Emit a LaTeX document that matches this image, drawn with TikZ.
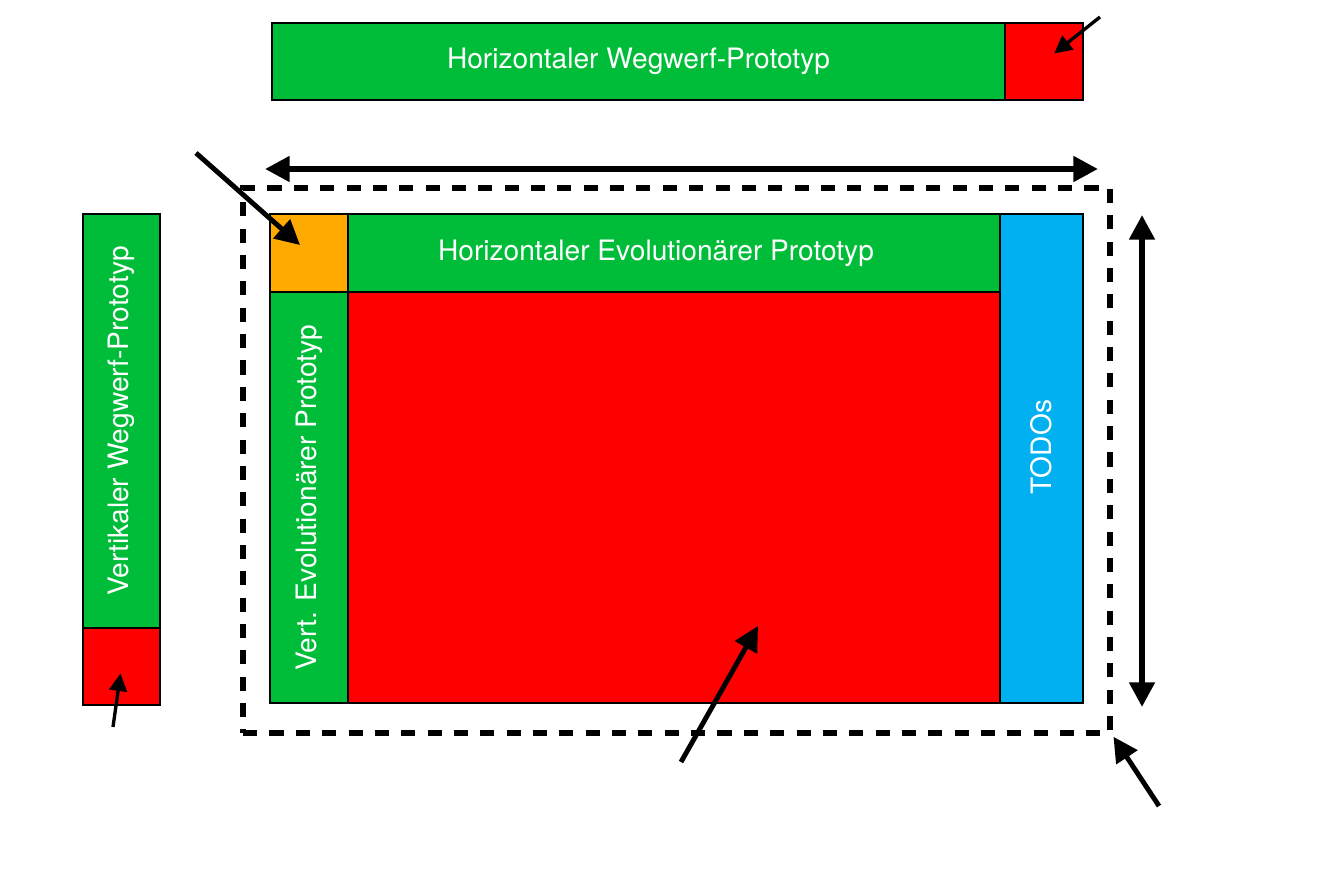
\documentclass[tikz,border=0pt]{standalone}
\usepackage{fontspec}
\setmainfont{TeX Gyre Heros}
\usetikzlibrary{arrows.meta,calc}

\definecolor{pgreen}{RGB}{0,189,57}
\definecolor{pred}{RGB}{255,0,0}
\definecolor{porange}{RGB}{255,170,0}
\definecolor{pblue}{RGB}{0,176,240}

\tikzset{
	cell/.style={draw, line width=1.2pt, inner sep=0pt, text=white, font=\fontsize{16}{19}\selectfont},
	pointer/.style={line width=2.8pt, -{Triangle[length=14pt,width=14pt]}},
	thinpointer/.style={line width=1.9pt, -{Triangle[length=10pt,width=10pt]}},
	span/.style={line width=3.3pt, {Triangle[length=14pt,width=14pt]}-{Triangle[length=14pt,width=14pt]}}
}

\begin{document}
\begin{tikzpicture}[x=0.02cm, y=-0.02cm]
		\useasboundingbox (0,0) rectangle (1334,884);

		% Wegwerf-Prototypen
		\node [cell, fill=pgreen, minimum width=14.66cm, minimum height=1.54cm] (hw) at (638.5,61.5) {Horizontaler Wegwerf-Prototyp};
		\node [cell, fill=pred, minimum width=1.56cm, minimum height=1.54cm] (hwred) at (1044,61.5) {};
		\node [cell, fill=pgreen, rotate=90, minimum width=8.28cm, minimum height=1.54cm] (vw) at (121.5,421) {Vertikaler Wegwerf-Prototyp};
		\node [cell, fill=pred, minimum width=1.54cm, minimum height=1.54cm] (vwred) at (121.5,666.5) {};

		% evolutionaerer Prototyp
		\node [draw, dashed, line width=3.4pt, dash pattern=on 8pt off 7pt, minimum width=17.34cm, minimum height=10.9cm] (frame) at (676.5,460.5) {};
		\node [cell, fill=porange, minimum width=1.56cm, minimum height=1.56cm] (corner) at (309,253) {};
		\node [cell, fill=pgreen, minimum width=13.04cm, minimum height=1.56cm] (he) at (674,253) {Horizontaler Evolutionärer Prototyp\hspace*{0.72cm}};
		\node [cell, fill=pgreen, rotate=90, minimum width=8.22cm, minimum height=1.56cm] (ve) at (309,497.5) {Vert. Evolutionärer Prototyp};
		\node [cell, fill=pred, minimum width=13.04cm, minimum height=8.22cm] (core) at (674,497.5) {};
		\node [cell, fill=pblue, rotate=90, minimum width=9.78cm, minimum height=1.66cm] (todo) at (1041.5,458.5) {\hspace*{0.46cm}TODOs};

		% Pfeile
		\coordinate (p1) at (1100,17);
		\coordinate (p2) at (113,727);
		\coordinate (p3) at (196,153);
		\coordinate (p4) at (681,762);
		\coordinate (p5) at (1159,806);
		\draw [thinpointer, shorten >=0.26cm] (p1) -- (hwred.center);
		\draw [thinpointer, shorten >=0.14cm] (p2) -- (vwred.center);
		\draw [pointer, shorten >=0.24cm] (p3) -- (corner.center);
		\draw [pointer] (p4) -- ($(core.south)+(84,-78)$);
		\draw [pointer, shorten >=0.02cm] (p5) -- (frame.south east);

		% Ausdehnung
		\coordinate (wl) at (265,169);
		\coordinate (wr) at (1098,169);
		\coordinate (ht) at (1142,215);
		\coordinate (hb) at (1142,707);
		\draw [span] (wl) -- (wr);
		\draw [span] (ht) -- (hb);
	\end{tikzpicture}
\end{document}
